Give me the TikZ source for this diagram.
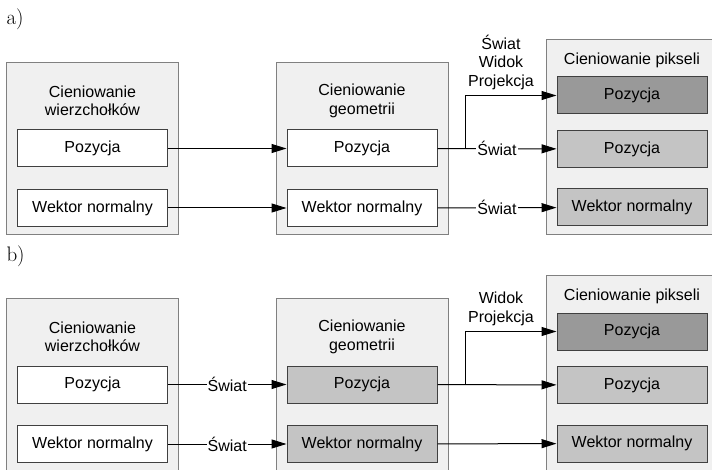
\documentclass[tikz,border=0pt]{standalone}
\usepackage{fontspec}
\newfontfamily\arial{Liberation Sans}
\usepackage{tikz}
\usetikzlibrary{arrows.meta}
\tikzset{>={Triangle[length=15pt,width=9pt]}}
\definecolor{stagefill}{HTML}{F0F0F0}
\definecolor{stageline}{HTML}{808080}
\definecolor{slotline}{HTML}{404040}
\definecolor{darkslot}{HTML}{999999}
\definecolor{lightslot}{HTML}{C4C4C4}
\tikzstyle{stage} = [draw=stageline, fill=stagefill, inner sep=0pt,
    minimum width=172pt, minimum height=172pt]
\tikzstyle{slot} = [draw=slotline, fill=white, inner sep=0pt,
    minimum width=150pt, minimum height=37pt,
    font=\arial\fontsize{16}{18}\selectfont]
\tikzstyle{title} = [align=center, inner sep=0pt,
    font=\arial\fontsize{16}{18.5}\selectfont]
\tikzstyle{tag} = [fill=white, inner sep=1pt,
    font=\arial\fontsize{16}{18.5}\selectfont]
\tikzstyle{panel} = [anchor=west, inner sep=0pt,
    font=\fontsize{21}{24}\selectfont]

\begin{document}
\begin{tikzpicture}[x=1pt, y=-1pt, line width=1pt]
\useasboundingbox (0,0) rectangle (712,470);
\clip (0,0) rectangle (712,470);
\begin{scope}
    %stages
    \node[panel] (a) at (6,19) {a)};
    \node[stage] (aV) at (92.5,149) {};
    \node[stage] (aG) at (362,149) {};
    \node[stage, minimum height=195pt] (aP) at (632,137.5) {};
    \node[title] (aVt) at (92.5,101) {Cieniowanie\\wierzchołków};
    \node[title] (aGt) at (362,101) {Cieniowanie\\geometrii};
    \node[title] (aPt) at (632,60) {Cieniowanie pikseli};
    %slots
    \node[slot] (aV1) at (92.5,148.5) {Pozycja};
    \node[slot] (aV2) at (92.5,208) {Wektor normalny};
    \node[slot] (aG1) at (362,148.5) {Pozycja};
    \node[slot] (aG2) at (362,208) {Wektor normalny};
    \node[slot, fill=darkslot] (aP1) at (632,95.5) {Pozycja};
    \node[slot, fill=lightslot] (aP2) at (632,149) {Pozycja};
    \node[slot, fill=lightslot] (aP3) at (632,207.5) {Wektor normalny};
    %edges
    \coordinate (aJ) at (465,148.5);
    \draw[->] (aV1) -- (aG1);
    \draw[->] (aV2) -- (aG2);
    \draw[->] (aG1) -- node[tag] (aw1) {Świat} (aP2);
    \draw[->] (aG2) -- node[tag] (aw2) {Świat} (aP3);
    \draw[->] (aJ) |- (aP1);
    \node[title, anchor=south] (aw3) at (501,90) {Świat\\Widok\\Projekcja};
\end{scope}
\begin{scope}[yshift=-236pt]
    %stages
    \node[panel] (b) at (6,20) {b)};
    \node[stage] (bV) at (92.5,149) {};
    \node[stage] (bG) at (362,149) {};
    \node[stage, minimum height=195pt] (bP) at (632,137.5) {};
    \node[title] (bVt) at (92.5,101) {Cieniowanie\\wierzchołków};
    \node[title] (bGt) at (362,101) {Cieniowanie\\geometrii};
    \node[title] (bPt) at (632,60) {Cieniowanie pikseli};
    %slots
    \node[slot] (bV1) at (92.5,148.5) {Pozycja};
    \node[slot] (bV2) at (92.5,208) {Wektor normalny};
    \node[slot, fill=lightslot] (bG1) at (362,148.5) {Pozycja};
    \node[slot, fill=lightslot] (bG2) at (362,208) {Wektor normalny};
    \node[slot, fill=darkslot] (bP1) at (632,95.5) {Pozycja};
    \node[slot, fill=lightslot] (bP2) at (632,149) {Pozycja};
    \node[slot, fill=lightslot] (bP3) at (632,207.5) {Wektor normalny};
    %edges
    \coordinate (bJ) at (465,148.5);
    \draw[->] (bV1) -- node[tag] (bw1) {Świat} (bG1);
    \draw[->] (bV2) -- node[tag] (bw2) {Świat} (bG2);
    \draw[->] (bG1) -- (bP2);
    \draw[->] (bG2) -- (bP3);
    \draw[->] (bJ) |- (bP1);
    \node[title, anchor=south] (bw3) at (501,90) {Widok\\Projekcja};
\end{scope}
\end{tikzpicture}
\end{document}
